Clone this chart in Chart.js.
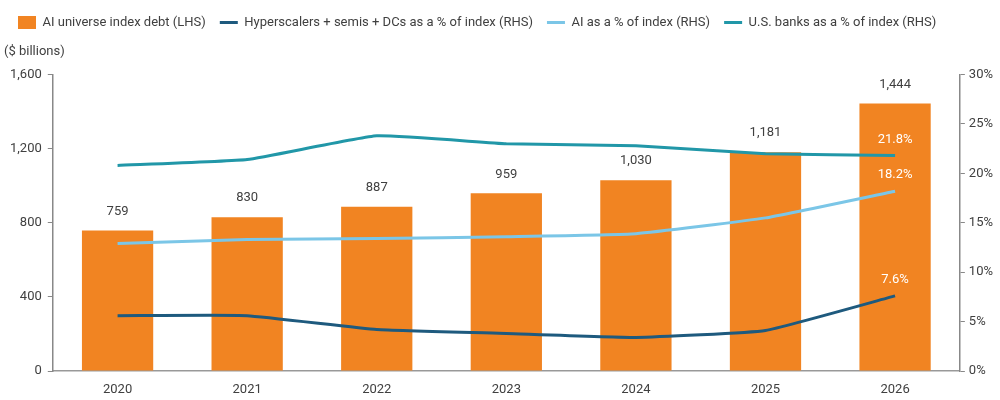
<!DOCTYPE html>
<html>
<head>
<meta charset="utf-8">
<script src="https://cdn.jsdelivr.net/npm/chart.js@4.4.1/dist/chart.umd.min.js"></script>
<style>
  html, body { margin: 0; padding: 0; background: #fff; }
  #wrap { width: 1000px; height: 400px; }
</style>
</head>
<body>
<div id="wrap"><canvas id="debtChart"></canvas></div>
<script>
const years = ["2020", "2021", "2022", "2023", "2024", "2025", "2026"];
const indexDebt = [759, 830, 887, 959, 1030, 1181, 1444];
const hyperscalersPct = [5.6, 5.6, 4.2, 3.8, 3.4, 4.1, 7.6];
const aiPct = [12.9, 13.3, 13.4, 13.6, 13.9, 15.5, 18.2];
const banksPct = [20.8, 21.4, 23.8, 23.0, 22.8, 22.0, 21.8];
const leftTicks = [0, 400, 800, 1200, 1600];
const rightTicks = [0, 5, 10, 15, 20, 25, 30];

const FONT = "Roboto, sans-serif";
const TEXT = "#404040";

// value labels: bar totals in grey, last line points in white
const valueLabels = {
    id: "valueLabels",
    afterDatasetsDraw(chart) {
        const ctx = chart.ctx;
        ctx.save();
        ctx.font = "13px " + FONT;
        ctx.textAlign = "center";
        ctx.textBaseline = "middle";
        const bars = chart.getDatasetMeta(0);
        bars.data.forEach((el, i) => {
            ctx.fillStyle = TEXT;
            ctx.fillText(indexDebt[i].toLocaleString("en-US"), el.x, el.y - 19);
        });
        [1, 2, 3].forEach((d) => {
            const meta = chart.getDatasetMeta(d);
            const last = meta.data.length - 1;
            const el = meta.data[last];
            ctx.fillStyle = "#ffffff";
            ctx.fillText(chart.data.datasets[d].data[last].toFixed(1) + "%", el.x, el.y - 16);
        });
        ctx.restore();
    },
};

new Chart(document.getElementById("debtChart").getContext("2d"), {
    data: {
        labels: years,
        datasets: [
            {
                type: "bar",
                label: "AI universe index debt (LHS)",
                data: indexDebt,
                backgroundColor: "#F18422",
                yAxisID: "y",
                barPercentage: 0.55,
                categoryPercentage: 1,
                order: 2,
            },
            {
                type: "line",
                label: "Hyperscalers + semis + DCs as a % of index (RHS)",
                data: hyperscalersPct,
                borderColor: "#1E5A7E",
                backgroundColor: "#1E5A7E",
                borderWidth: 3,
                pointRadius: 0,
                tension: 0.12,
                yAxisID: "y1",
                order: 1,
            },
            {
                type: "line",
                label: "AI as a % of index (RHS)",
                data: aiPct,
                borderColor: "#7BC6E7",
                backgroundColor: "#7BC6E7",
                borderWidth: 3,
                pointRadius: 0,
                tension: 0.12,
                yAxisID: "y1",
                order: 1,
            },
            {
                type: "line",
                label: "U.S. banks as a % of index (RHS)",
                data: banksPct,
                borderColor: "#2197A8",
                backgroundColor: "#2197A8",
                borderWidth: 3,
                pointRadius: 0,
                tension: 0.12,
                yAxisID: "y1",
                order: 1,
            },
        ],
    },
    options: {
        responsive: true,
        maintainAspectRatio: false,
        animation: false,
        layout: { padding: { left: 4, right: 3, top: 2, bottom: 0 } },
        scales: {
            x: {
                grid: { display: false, drawTicks: false },
                border: { display: true, color: "#999", width: 1.5 },
                ticks: { color: TEXT, font: { family: FONT, size: 13, lineHeight: 1 }, padding: 12 },
                afterFit(scale) { scale.height = 29; },
            },
            y: {
                position: "left",
                min: 0,
                max: 1600,
                afterBuildTicks(axis) { axis.ticks = leftTicks.map((v) => ({ value: v })); },
                grid: { drawOnChartArea: false, drawTicks: true, tickLength: 5, color: "#888" },
                border: { display: true, color: "#888", width: 1.5 },
                ticks: {
                    color: TEXT,
                    font: { family: FONT, size: 13 },
                    padding: 6,
                    callback: (v) => v.toLocaleString("en-US"),
                },
            },
            y1: {
                position: "right",
                min: 0,
                max: 30,
                afterBuildTicks(axis) { axis.ticks = rightTicks.map((v) => ({ value: v })); },
                grid: { drawOnChartArea: false, drawTicks: true, tickLength: 5, color: "#888" },
                border: { display: true, color: "#888", width: 1.5 },
                ticks: {
                    color: TEXT,
                    font: { family: FONT, size: 13 },
                    padding: 4,
                    callback: (v) => v + "%",
                },
            },
        },
        plugins: {
            legend: {
                position: "top",
                align: "start",
                labels: {
                    color: TEXT,
                    font: { family: FONT, size: 13 },
                    usePointStyle: true,
                    pointStyleWidth: 18,
                    boxHeight: 14,
                    padding: 14,
                    generateLabels(chart) {
                        return chart.data.datasets.map((ds, i) => ({
                            text: ds.label,
                            fillStyle: ds.backgroundColor,
                            strokeStyle: ds.backgroundColor,
                            lineWidth: i === 0 ? 0 : 3,
                            pointStyle: i === 0 ? "rect" : "line",
                            fontColor: TEXT,
                            datasetIndex: i,
                        }));
                    },
                },
            },
            title: {
                display: true,
                text: "($ billions)",
                align: "start",
                weight: 500,
                color: TEXT,
                font: { family: FONT, size: 13, weight: "normal" },
                padding: { top: 5, bottom: 15 },
            },
            tooltip: { enabled: false },
        },
    },
    plugins: [valueLabels],
});
</script>
</body>
</html>
